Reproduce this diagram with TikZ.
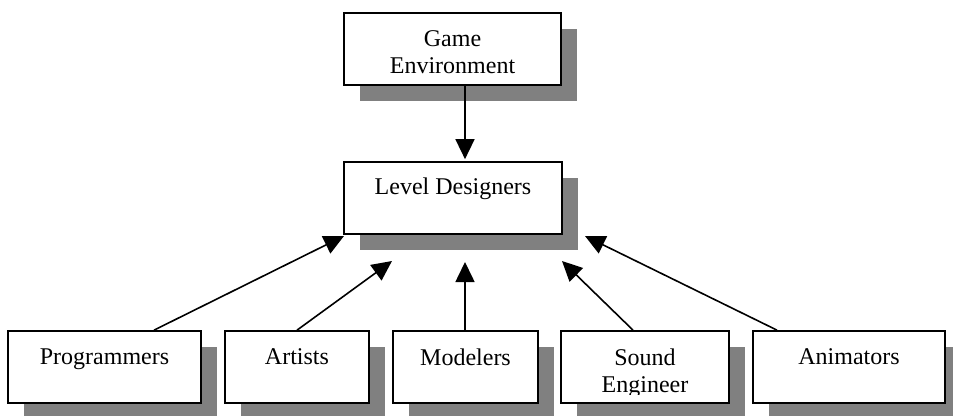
\documentclass[tikz,border=0pt]{standalone}
\usepackage{fontspec}
\setmainfont{Liberation Serif}
\usetikzlibrary{arrows.meta,shadows}
\definecolor{shadowgray}{HTML}{808080}
\tikzset{
  box/.style={draw=black, line width=1.7pt, fill=white, inner sep=0pt,
    general shadow={fill=shadowgray, shadow xshift=16pt, shadow yshift=-16pt}},
  lbl/.style={inner sep=0pt, anchor=base, font=\fontsize{24}{27}\selectfont},
  conn/.style={line width=1.6pt, -{Triangle[length=20pt,width=19pt]}}
}
\begin{document}
\begin{tikzpicture}[x=1pt,y=-1pt]
\useasboundingbox (0,0) rectangle (953,415);
\clip (0,0) rectangle (953,415);
% boxes
\node[box, minimum width=217pt, minimum height=72pt] (ge) at (452.5,49) {};
\node[box, minimum width=218pt, minimum height=72pt] (ld) at (453,198) {};
\node[box, minimum width=193pt, minimum height=72pt] (prog) at (104.5,367) {};
\node[box, minimum width=144pt, minimum height=72pt] (art) at (297,367) {};
\node[box, minimum width=145pt, minimum height=72pt] (mod) at (465.5,367) {};
\node[box, minimum width=168pt, minimum height=72pt] (snd) at (645,367) {};
\node[box, minimum width=192pt, minimum height=72pt] (ani) at (849,367) {};
% texts
\node[lbl] (geA) at (452.5,46.7) {Game};
\node[lbl] (geB) at (452.5,73.3) {Environment};
\node[lbl] (ldT) at (453,194) {Level Designers};
\node[lbl] (progT) at (104.5,364) {Programmers};
\node[lbl] (artT) at (297,364) {Artists};
\node[lbl] (modT) at (465.5,365) {Modelers};
\node[lbl] (sndA) at (645,365) {Sound};
\begin{scope}
\clip (561,370) rectangle (729,394);
\node[lbl] (sndB) at (645,392.7) {Engineer};
\end{scope}
\node[lbl] (aniT) at (849,364) {Animators};
% arrow tips
\coordinate (tP) at (344,236);
\coordinate (tA) at (392,261);
\coordinate (tM) at (465,262);
\coordinate (tS) at (562,261);
\coordinate (tN) at (585,236);
% connectors
\draw[conn, shorten >=2pt] ([xshift=12.5pt]ge.south) -- ([xshift=12pt]ld.north);
\draw[conn] ([xshift=49.5pt]prog.north) -- (tP);
\draw[conn] (art.north) -- (tA);
\draw[conn] ([xshift=-0.5pt]mod.north) -- (tM);
\draw[conn] ([xshift=-12pt]snd.north) -- (tS);
\draw[conn] ([xshift=-72pt]ani.north) -- (tN);
\end{tikzpicture}
\end{document}
